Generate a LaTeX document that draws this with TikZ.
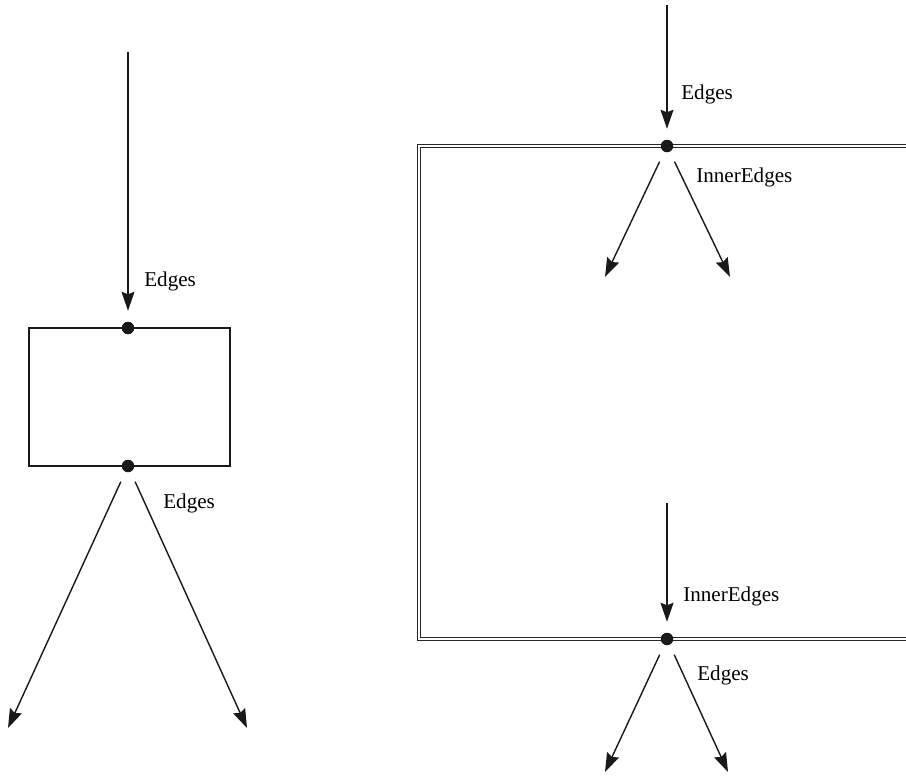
\documentclass[tikz,border=0pt]{standalone}
\usepackage{fontspec}
\setmainfont{Liberation Serif}
\usetikzlibrary{arrows.meta,positioning}

\begin{document}
\begin{tikzpicture}[x=0.02cm, y=-0.02cm,
    pfeil/.style={black!90, line width=0.8pt, -{Stealth[length=0.38cm, width=0.26cm, inset=0.05cm]}},
    punkt/.style={circle, fill=black!90, inner sep=0pt, minimum size=0.25cm, outer sep=0.22cm},
    block/.style={draw=black!90, line width=1.1pt, minimum width=4.02cm, minimum height=2.76cm, inner sep=0pt},
    rahmen/.style={draw=black!85, double, double distance=0.05cm, line width=0.5pt},
    lbl/.style={font=\fontsize{12}{14}\selectfont, inner sep=0pt, anchor=base west}
  ]
  \useasboundingbox (0,0) rectangle (906,775);

  % Linker Block
  \node[block] (lbox) at (129.5,397) {};
  \node[punkt] (lein) at (128,328) {};
  \node[punkt] (laus) at (128,466) {};
  \coordinate (lq) at (128,52);
  \coordinate (lz1) at (8,728);
  \coordinate (lz2) at (247,728);

  \draw[pfeil] (lq) -- (lein);
  \draw[pfeil] (laus) -- (lz1);
  \draw[pfeil] (laus) -- (lz2);
  \node[lbl] (lkin) at (144,286) {Edges};
  \node[lbl] (lkaus) at (163,508) {Edges};

  % Rechter Block (doppelt umrandet, rechts offen)
  \draw[rahmen] (906,146) -- (419,146) -- (419,639) -- (906,639);
  \node[punkt] (rein) at (667,146) {};
  \node[punkt] (raus) at (667,639) {};
  \coordinate (rq) at (667,5);
  \coordinate (ri1) at (605,277);
  \coordinate (ri2) at (730,277);
  \coordinate (riq) at (667,503);
  \coordinate (rz1) at (605,772);
  \coordinate (rz2) at (728,772);

  \draw[pfeil] (rq) -- (rein);
  \draw[pfeil] (rein) -- (ri1);
  \draw[pfeil] (rein) -- (ri2);
  \draw[pfeil] (riq) -- (raus);
  \draw[pfeil] (raus) -- (rz1);
  \draw[pfeil] (raus) -- (rz2);

  \node[lbl] (rkin) at (681,99) {Edges};
  \node[lbl] (rkinn) at (696,182) {InnerEdges};
  \node[lbl] (rkinn2) at (683,601) {InnerEdges};
  \node[lbl] (rkaus) at (697,680) {Edges};
\end{tikzpicture}
\end{document}
